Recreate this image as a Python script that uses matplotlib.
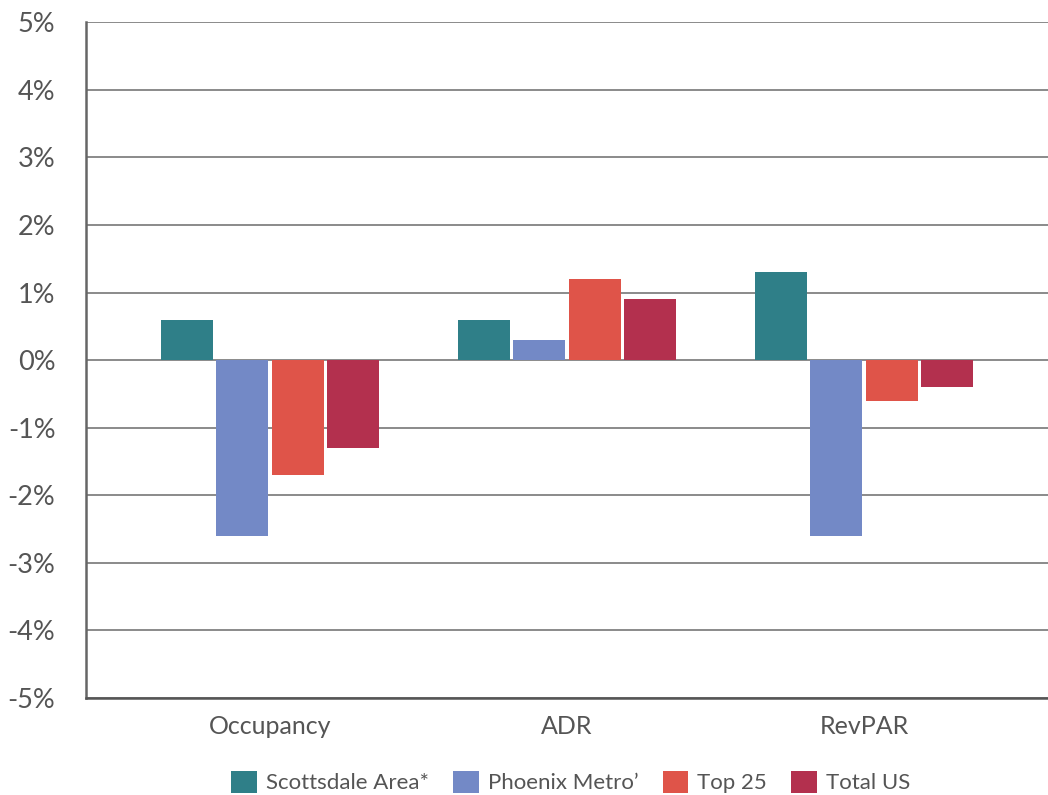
import numpy as np
import matplotlib.pyplot as plt
from matplotlib.ticker import FuncFormatter

# Year-over-year change by metric
categories = ['Occupancy', 'ADR', 'RevPAR']
series_names = ['Scottsdale Area*', 'Phoenix Metro\u2019', 'Top 25', 'Total US']
scottsdale = [0.6, 0.6, 1.3]
phoenix = [-2.6, 0.3, -2.6]
top25 = [-1.7, 1.2, -0.6]
total_us = [-1.3, 0.9, -0.4]
colores = ['#2f7f88', '#7389c6', '#df5449', '#b3304e']

plt.rcParams['font.family'] = ['Lato', 'DejaVu Sans']
texto = '#555555'

fig = plt.figure(figsize=(10.48, 7.95), dpi=100)
ax = fig.add_axes([0.082, 0.122, 0.918, 0.850])

x = np.arange(len(categories))
paso = 0.187
ancho = 0.175
valores = [scottsdale, phoenix, top25, total_us]
for i, (nombre, serie) in enumerate(zip(series_names, valores)):
    ax.bar(x + (i - 1.5) * paso, serie, width=ancho, color=colores[i],
           label=nombre, zorder=3)

ax.set_ylim(-5, 5)
ax.set_xlim(-0.62, 2.62)
ax.set_yticks(range(-5, 6))
ax.yaxis.set_major_formatter(FuncFormatter(lambda v, p: f'{int(v)}%'))
ax.set_xticks(x)
ax.set_xticklabels(categories)

# Lineas horizontales de la cuadricula
ax.grid(axis='y', color='#8a8a8a', linewidth=1.4, zorder=0)
ax.grid(axis='x', visible=False)
for lado in ['top', 'right']:
    ax.spines[lado].set_visible(False)
ax.spines['left'].set_color('#666666')
ax.spines['left'].set_linewidth(1.8)
ax.spines['bottom'].set_color('#555555')
ax.spines['bottom'].set_linewidth(1.8)

ax.tick_params(axis='y', length=0, labelsize=19.5, labelcolor=texto, pad=22)
ax.tick_params(axis='x', length=0, labelsize=18, labelcolor=texto, pad=12)

ax.legend(loc='upper center', bbox_to_anchor=(0.504, -0.078), ncol=4,
          frameon=False, fontsize=16, labelcolor=texto, handlelength=1.15,
          handleheight=1.15, handletextpad=0.4, columnspacing=1.1)

fig.savefig('out.png', dpi=100, facecolor='white')
